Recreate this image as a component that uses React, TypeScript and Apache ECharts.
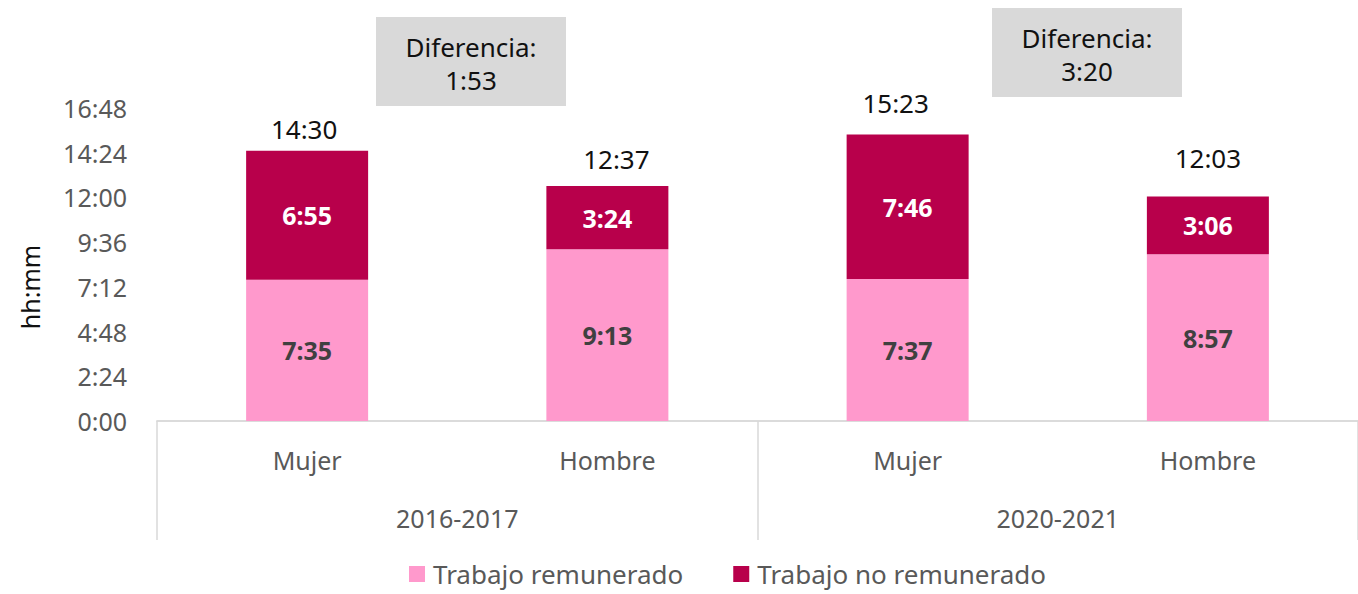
import React, { useEffect, useRef } from "react";
import * as echarts from "echarts";

const categories = ["Mujer", "Hombre", "Mujer", "Hombre"];
const periods = ["2016-2017", "2020-2021"];
// minutes
const paid = [455, 553, 457, 537];
const unpaid = [415, 204, 466, 186];
const totals = [870, 757, 923, 723];
const differences = ["1:53", "3:20"];
const seriesNames = ["Trabajo remunerado", "Trabajo no remunerado"];

const FONT = "Noto Sans";

function fmt(m: number): string {
  const h = Math.floor(m / 60);
  const mm = Math.round(m - h * 60);
  return `${h}:${mm < 10 ? "0" + mm : mm}`;
}

export default function App() {
  const ref = useRef<HTMLDivElement>(null);
  useEffect(() => {
    if (!ref.current) return;
    const chart = echarts.init(ref.current, undefined, { renderer: "svg" });
    // manual label placement (as in the source chart)
    const totalLabelStyle = [
      { distance: 9, offset: [-3, 0] },
      { distance: 14, offset: [9, 0] },
      { distance: 18, offset: [-12, 0] },
      { distance: 25, offset: [0, 0] },
    ];
    chart.setOption({
      animation: false,
      textStyle: { fontFamily: FONT },
      grid: { left: 157, top: 108, bottom: 173, width: 1216, containLabel: false },
      legend: {
        left: 404,
        bottom: 7,
        padding: [0, 5, 0, 5],
        itemWidth: 16,
        itemHeight: 16,
        itemGap: 50,
        icon: "rect",
        textStyle: { fontSize: 26, lineHeight: 26, color: "#595959", fontFamily: FONT, padding: [0, 0, 0, 3] },
        data: seriesNames,
      },
      xAxis: [
        {
          type: "category",
          data: categories,
          axisLine: { lineStyle: { color: "#d9d9d9", width: 1.5 } },
          axisTick: { show: false },
          axisLabel: { fontSize: 25, color: "#595959", margin: 26, fontFamily: FONT },
        },
        {
          type: "category",
          data: periods,
          position: "bottom",
          axisLine: { show: true, lineStyle: { color: "#d9d9d9", width: 1.5 } },
          axisTick: { show: true, length: 119, lineStyle: { color: "#d9d9d9", width: 1.5 } },
          axisLabel: { fontSize: 25, color: "#595959", margin: 84, fontFamily: FONT },
        },
      ],
      yAxis: {
        type: "value",
        min: 0,
        max: 1008,
        interval: 144,
        splitLine: { show: false },
        axisLine: { show: false },
        axisTick: { show: false },
        axisLabel: {
          fontSize: 25,
          color: "#595959",
          margin: 30,
          fontFamily: FONT,
          formatter: (v: number) => fmt(v),
        },
      },
      series: [
        {
          name: seriesNames[0],
          type: "bar",
          stack: "t",
          barWidth: 122,
          data: paid,
          itemStyle: { color: "#FF99CC" },
          label: {
            show: true,
            position: "inside",
            fontSize: 25,
            fontWeight: "bold",
            color: "#404040",
            fontFamily: FONT,
            formatter: (p: any) => fmt(p.value),
          },
        },
        {
          name: seriesNames[1],
          type: "bar",
          stack: "t",
          barWidth: 122,
          data: unpaid,
          itemStyle: { color: "#B8004B" },
          label: {
            show: true,
            position: "inside",
            fontSize: 25,
            fontWeight: "bold",
            color: "#ffffff",
            fontFamily: FONT,
            formatter: (p: any) => fmt(p.value),
          },
        },
        {
          name: "total",
          type: "bar",
          stack: "t",
          barWidth: 122,
          data: totals.map((_, i) => ({ value: 0, label: totalLabelStyle[i] })),
          itemStyle: { color: "transparent" },
          tooltip: { show: false },
          label: {
            show: true,
            position: "top",
            fontSize: 26,
            color: "#111111",
            fontFamily: FONT,
            formatter: (p: any) => fmt(totals[p.dataIndex]),
          },
        },
      ],
      graphic: [
        {
          type: "text",
          rotation: Math.PI / 2,
          x: 30,
          y: 287,
          style: {
            text: "hh:mm",
            fontSize: 25,
            fill: "#111111",
            fontFamily: FONT,
            align: "center",
            verticalAlign: "middle",
          },
        },
        {
          type: "group",
          left: 376,
          top: 17,
          children: [
            { type: "rect", shape: { x: 0, y: 0, width: 190, height: 89 }, style: { fill: "#D9D9D9" } },
            {
              type: "text",
              x: 95,
              y: 46,
              style: {
                text: "Diferencia:\n" + differences[0],
                fontSize: 26,
                lineHeight: 33,
                fill: "#111111",
                fontFamily: FONT,
                align: "center",
                verticalAlign: "middle",
              },
            },
          ],
        },
        {
          type: "group",
          left: 992,
          top: 8,
          children: [
            { type: "rect", shape: { x: 0, y: 0, width: 190, height: 89 }, style: { fill: "#D9D9D9" } },
            {
              type: "text",
              x: 95,
              y: 46,
              style: {
                text: "Diferencia:\n" + differences[1],
                fontSize: 26,
                lineHeight: 33,
                fill: "#111111",
                fontFamily: FONT,
                align: "center",
                verticalAlign: "middle",
              },
            },
          ],
        },
      ],
    });
    return () => chart.dispose();
  }, []);
  return (
    <div
      ref={ref}
      style={{ position: "absolute", left: 0, top: 0, width: 1358, height: 594 }}
    />
  );
}
